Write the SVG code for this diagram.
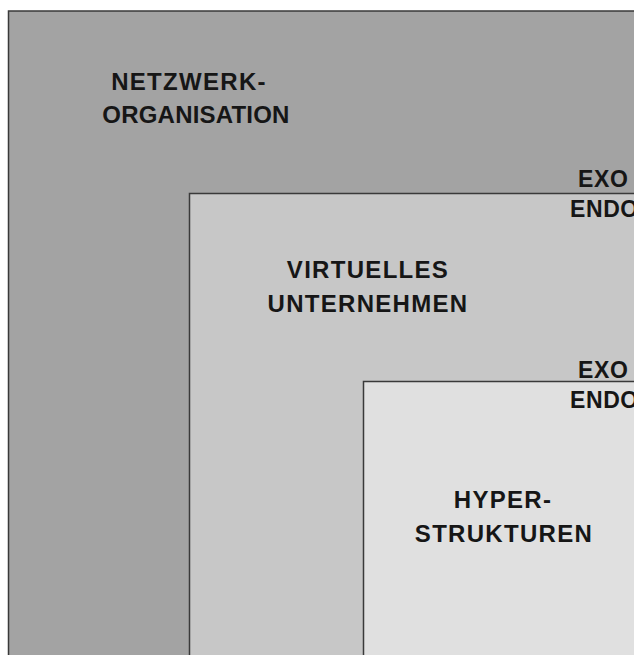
<svg xmlns="http://www.w3.org/2000/svg" width="634" height="655" viewBox="0 0 634 655">
<style>
.box{stroke:#3a3a3a;stroke-width:1.5}
.t{font-family:"Liberation Sans",Arial,sans-serif;font-size:24px;font-weight:bold;fill:#161616;letter-spacing:1.3px;text-anchor:middle}
.e{font-family:"Liberation Sans",Arial,sans-serif;font-size:23px;font-weight:bold;fill:#161616;letter-spacing:0.6px}
</style>
<rect width="634" height="655" fill="#ffffff"/>
<g id="netzwerk">
<rect class="box" x="8.5" y="11" width="640" height="660" fill="#a3a3a3"/>
<text class="t" x="189" y="90">NETZWERK-</text>
<text class="t" x="196" y="123" style="letter-spacing:0.2px">ORGANISATION</text>
</g>
<g id="virtuell">
<rect class="box" x="189.5" y="193.5" width="460" height="480" fill="#c7c7c7"/>
<text class="e" x="578" y="187">EXO</text>
<text class="e" x="570" y="217">ENDO</text>
<text class="t" x="368" y="278">VIRTUELLES</text>
<text class="t" x="368" y="312">UNTERNEHMEN</text>
</g>
<g id="hyper">
<rect class="box" x="363.5" y="381.5" width="290" height="290" fill="#e0e0e0"/>
<text class="e" x="578" y="378">EXO</text>
<text class="e" x="570" y="408">ENDO</text>
<text class="t" x="503" y="508">HYPER-</text>
<text class="t" x="504" y="542">STRUKTUREN</text>
</g>
<g id="connectors"/>
</svg>
